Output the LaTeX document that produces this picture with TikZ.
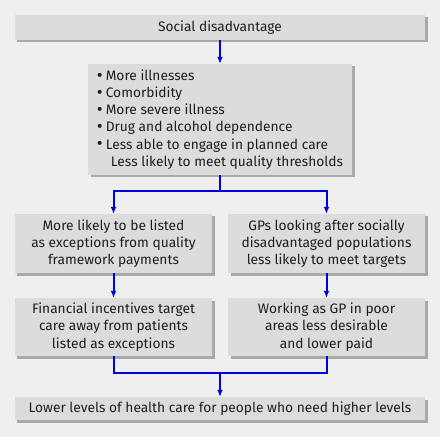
\documentclass[tikz,border=0pt]{standalone}
\usepackage{fontspec}
\setmainfont{Fira Sans}
\usetikzlibrary{arrows.meta,shadows}
\definecolor{pagegray}{HTML}{EFEFEF}
\definecolor{boxgray}{HTML}{DCDCDC}
\definecolor{shadegray}{HTML}{A9A9A9}
\definecolor{linkblue}{HTML}{0000E6}
\definecolor{inkgray}{HTML}{1E1E1E}
\newcommand\blt{\raisebox{-0.8bp}{\fontsize{18}{17.2}\selectfont\textbullet}\hspace{3bp}}
\tikzset{
  box/.style={fill=boxgray, text=inkgray, inner xsep=4bp, inner ysep=1bp,
    font=\fontsize{13.8}{17.2}\selectfont, align=center,
    drop shadow={shadow xshift=2.5bp, shadow yshift=-2.5bp, fill=shadegray, opacity=1}},
  link/.style={draw=linkblue, line width=2bp},
  flow/.style={link, -{Latex[length=7bp,width=6bp]}},
}
\begin{document}
\begin{tikzpicture}[x=1bp,y=-1bp]
                \fill[pagegray] (0,0) rectangle (440,437);
                \useasboundingbox (0,0) rectangle (440,437);
                % top and bottom boxes
                \node[box, minimum width=410bp, minimum height=25bp] (social) at (220,27.5) {Social disadvantage};
                \node[box, minimum width=264bp, minimum height=111bp, align=left] (ill) at (220,119.5)
                    {\blt More illnesses\\
                     \blt Comorbidity\\
                     \blt More severe illness\\
                     \blt Drug and alcohol dependence\\
                     \blt Less able to engage in planned care\\
                     \hspace*{14bp}Less likely to meet quality thresholds};
                % two branches
                \node[box, minimum width=197bp, minimum height=59bp] (exc) at (113.5,243.5)
                    {More likely to be listed\\as exceptions from quality\\framework payments};
                \node[box, minimum width=197bp, minimum height=59bp] (gps) at (326.5,243.5)
                    {GPs looking after socially\\disadvantaged populations\\less likely to meet targets};
                \node[box, minimum width=197bp, minimum height=58bp] (fin) at (113.5,327)
                    {Financial incentives target\\care away from patients\\listed as exceptions};
                \node[box, minimum width=197bp, minimum height=58bp] (poor) at (326.5,327)
                    {Working as GP in poor\\areas less desirable\\and lower paid};
                \node[box, minimum width=410bp, minimum height=23bp] (lower) at (220,408.5)
                    {Lower levels of health care for people who need higher levels};
                % connectors
                \coordinate (fork) at (220,191);
                \coordinate (join) at (220,373);
                \draw[flow] (social) -- (ill);
                \draw[link] (ill) -- (fork);
                \draw[flow] (fork) -| (exc);
                \draw[flow] (fork) -| (gps);
                \draw[flow] (exc) -- (fin);
                \draw[flow] (gps) -- (poor);
                \draw[link] (fin.south) |- (join);
                \draw[link] (poor.south) |- (join);
                \draw[flow] (join) -- (lower);
            \end{tikzpicture}
\end{document}
